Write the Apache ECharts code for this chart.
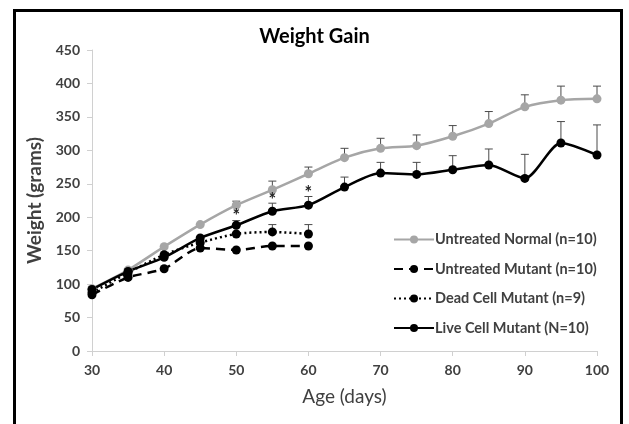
<!DOCTYPE html>
<html>
<head>
<meta charset="utf-8">
<script src="https://cdn.jsdelivr.net/npm/echarts@6/dist/echarts.min.js"></script>
<style>
  html, body { margin: 0; padding: 0; background: #fff; }
  #frame { position: absolute; left: 13px; top: 9px; width: 610px; height: 420px;
    border: 3px solid #000; border-bottom: none; box-sizing: border-box; }
  #chart { position: absolute; left: 0; top: 0; width: 629px; height: 424px; }
</style>
</head>
<body>
<div id="frame"></div>
<div id="chart"></div>
<script>
// ages (days)
const ages = [30, 35, 40, 45, 50, 55, 60, 65, 70, 75, 80, 85, 90, 95, 100]

// mean weights (grams)
const normal = [93, 121, 156, 189, 218, 241, 265, 289, 303, 307, 321, 340, 365, 375, 377]
const mutant = [84, 110, 123, 154, 151, 157, 157]
const dead = [87, 117, 144, 162, 175, 178, 175]
const live = [92, 119, 140, 169, 188, 209, 218, 245, 266, 264, 271, 278, 258, 311, 293]

// upper error bar length (grams)
const normalErr = [null, null, null, null, 6, 13, 10, 14, 15, 16, 16, 18, 18, 21, 19]
const deadErr = [null, null, null, null, null, 11, 14]
const liveErr = [null, null, null, null, 7, 12, 13, 15, 16, 18, 21, 24, 36, 32, 45]

// significance marks
const starAges = [50, 55, 60]
const starY = [209, 233, 244]

const yTicks = [0, 450, 50]
const xTicks = [30, 100, 10]

const pairs = (vals) => vals.map((v, i) => [ages[i], v])

const errData = (vals, errs) => {
  let out = []
  errs.forEach((e, i) => {
    if (e) out.push([ages[i], vals[i], vals[i] + e])
  })
  return out
}

const labelFont = 'Lato, "Open Sans", sans-serif'

const errSeries = function (name, data) {
  return {
    name: name,
    type: 'custom',
    data: data,
    z: 1,
    silent: true,
    renderItem: function (params, api) {
      let lo = api.coord([api.value(0), api.value(1)])
      let hi = api.coord([api.value(0), api.value(2)])
      let style = { stroke: '#4a4a4a', lineWidth: 1 }
      return {
        type: 'group',
        children: [
          { type: 'line', shape: { x1: lo[0], y1: lo[1], x2: hi[0], y2: hi[1] }, style: style },
          { type: 'line', shape: { x1: hi[0] - 4, y1: hi[1], x2: hi[0] + 4, y2: hi[1] }, style: style }
        ]
      }
    }
  }
}

const lineSeries = function (name, vals, color, type) {
  return {
    name: name,
    type: 'line',
    data: pairs(vals),
    smooth: 0.25,
    symbol: 'circle',
    symbolSize: 9,
    z: 3,
    itemStyle: { color: color },
    lineStyle: { color: color, width: 2.5, type: type },
    emphasis: { disabled: true }
  }
}

let chart = echarts.init(document.getElementById('chart'))
chart.setOption({
  animation: false,
  title: {
    text: 'Weight Gain',
    left: 'center',
    top: 22,
    textStyle: { fontFamily: labelFont, fontSize: 20, fontWeight: 'bold', color: '#000' }
  },
  grid: { left: 92, right: 32, top: 50, bottom: 73 },
  legend: {
    orient: 'vertical',
    left: 388,
    top: 227,
    itemWidth: 40,
    itemHeight: 10,
    itemGap: 14.5,
    data: ['Untreated Normal (n=10)', 'Untreated Mutant (n=10)', 'Dead Cell Mutant (n=9)', 'Live Cell Mutant (N=10)'],
    textStyle: { fontFamily: labelFont, fontSize: 14.5, fontWeight: 'bold', color: '#404040', padding: [0, 0, 0, -4] }
  },
  xAxis: {
    type: 'value',
    min: xTicks[0],
    max: xTicks[1],
    interval: xTicks[2],
    name: 'Age (days)',
    nameLocation: 'middle',
    nameGap: 36,
    nameTextStyle: { fontFamily: labelFont, fontSize: 19, color: '#404040' },
    splitLine: { show: false },
    axisLine: { lineStyle: { color: '#d0d0d0', width: 1 } },
    axisTick: { show: true, length: 5, lineStyle: { color: '#d0d0d0' } },
    axisLabel: { margin: 12, fontFamily: labelFont, fontSize: 14, fontWeight: 'bold', color: '#404040' }
  },
  yAxis: {
    type: 'value',
    min: yTicks[0],
    max: yTicks[1],
    interval: yTicks[2],
    name: 'Weight (grams)',
    nameLocation: 'middle',
    nameGap: 44,
    nameTextStyle: { fontFamily: labelFont, fontSize: 19, fontWeight: 'bold', color: '#404040' },
    splitLine: { show: false },
    axisLine: { show: true, lineStyle: { color: '#d0d0d0', width: 1 } },
    axisTick: { show: true, length: 5, lineStyle: { color: '#d0d0d0' } },
    axisLabel: { margin: 12, fontFamily: labelFont, fontSize: 14, fontWeight: 'bold', color: '#404040' }
  },
  series: [
    errSeries('normalErr', errData(normal, normalErr)),
    errSeries('deadErr', errData(dead, deadErr)),
    errSeries('liveErr', errData(live, liveErr)),
    lineSeries('Untreated Normal (n=10)', normal, '#a6a6a6', 'solid'),
    lineSeries('Untreated Mutant (n=10)', mutant, '#000', [9, 6]),
    lineSeries('Dead Cell Mutant (n=9)', dead, '#000', [2, 3]),
    lineSeries('Live Cell Mutant (N=10)', live, '#000', 'solid'),
    {
      name: 'stars',
      type: 'custom',
      silent: true,
      z: 4,
      data: starAges.map((a, i) => [a, starY[i]]),
      renderItem: function (params, api) {
        let p = api.coord([api.value(0), api.value(1)])
        // asterisk glyph sits high in its box, so nudge it down
        return {
          type: 'text',
          x: p[0],
          y: p[1] + 5,
          style: {
            text: '*',
            fontFamily: labelFont,
            fontSize: 18,
            fontWeight: 'bold',
            fill: '#222',
            align: 'center',
            verticalAlign: 'middle'
          }
        }
      }
    }
  ]
})
</script>
</body>
</html>
